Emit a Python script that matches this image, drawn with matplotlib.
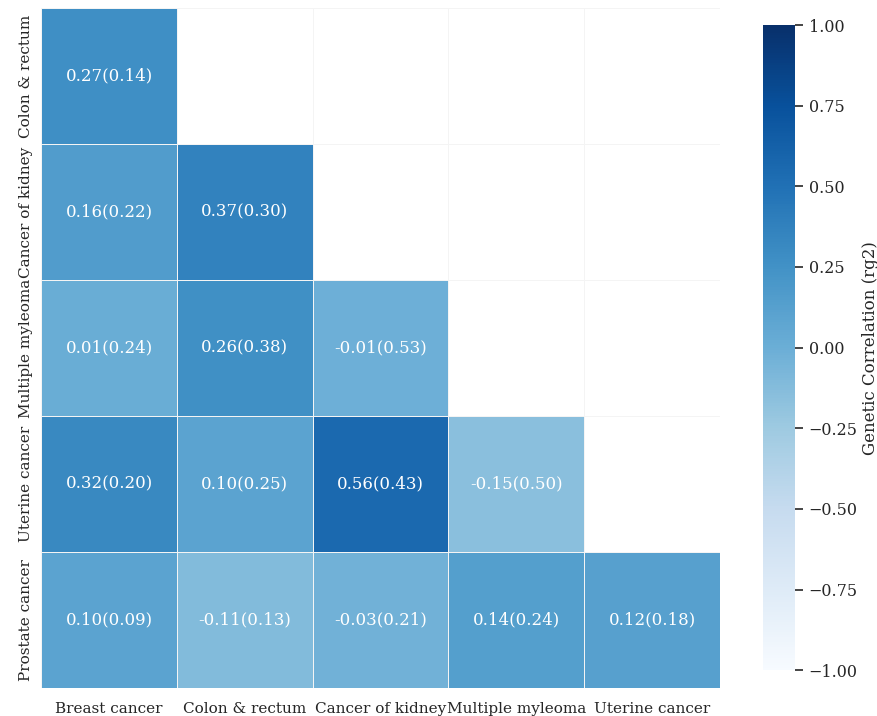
import numpy as np
import matplotlib
matplotlib.use("Agg")
import matplotlib.pyplot as plt
import seaborn as sns

row_labels = ["Colon & rectum", "Cancer of kidney", "Multiple myleoma",
              "Uterine cancer", "Prostate cancer"]
col_labels = ["Breast cancer", "Colon & rectum", "Cancer of kidney",
              "Multiple myleoma", "Uterine cancer"]

# genetic correlation and its standard error, lower triangle (nan = not shown)
rg = [
    [0.27, np.nan, np.nan, np.nan, np.nan],
    [0.16, 0.37, np.nan, np.nan, np.nan],
    [0.01, 0.26, -0.01, np.nan, np.nan],
    [0.32, 0.10, 0.56, -0.15, np.nan],
    [0.10, -0.11, -0.03, 0.14, 0.12],
]
se = [
    [0.14, np.nan, np.nan, np.nan, np.nan],
    [0.22, 0.30, np.nan, np.nan, np.nan],
    [0.24, 0.38, 0.53, np.nan, np.nan],
    [0.20, 0.25, 0.43, 0.50, np.nan],
    [0.09, 0.13, 0.21, 0.24, 0.18],
]
cbar_ticks = [-1, -0.75, -0.5, -0.25, 0, 0.25, 0.5, 0.75, 1]

sns.set_theme(style="white")
plt.rcParams["font.family"] = ["DejaVu Serif"]

rg = np.array(rg)
se = np.array(se)
mask = np.isnan(rg)
labels = np.empty(rg.shape, dtype=object)
for i in range(rg.shape[0]):
    for j in range(rg.shape[1]):
        labels[i, j] = "" if mask[i, j] else f"{rg[i, j]:.2f}({se[i, j]:.2f})"

fig = plt.figure(figsize=(8.78, 7.16), dpi=100)
ax = fig.add_axes([0.047, 0.039, 0.773, 0.950])
cax = fig.add_axes([0.869, 0.064, 0.037, 0.901])

# nan cells are left in so their faint borders still show
sns.heatmap(rg, mask=np.zeros_like(mask), cmap="Blues", vmin=-1, vmax=1,
            annot=labels, fmt="", annot_kws={"color": "white", "fontsize": 12},
            linewidths=0.6, linecolor="#f4f4f4", ax=ax, cbar_ax=cax,
            xticklabels=col_labels, yticklabels=row_labels)

ax.tick_params(axis="both", length=0, labelsize=11, colors="#262626")
ax.tick_params(axis="x", pad=10)
ax.tick_params(axis="y", pad=6)
plt.setp(ax.get_yticklabels(), rotation=90, va="center")
plt.setp(ax.get_xticklabels(), rotation=0)

cax.set_yticks(cbar_ticks)
cax.set_yticklabels([f"{v:.2f}".replace("-", "\u2212") for v in cbar_ticks])
cax.tick_params(axis="y", right=True, length=6, width=1.2, labelsize=11.5,
                colors="#262626")
cax.set_ylabel("Genetic Correlation (rg2)", fontsize=12, color="#262626",
               labelpad=3)

fig.savefig("out.png", dpi=100)
